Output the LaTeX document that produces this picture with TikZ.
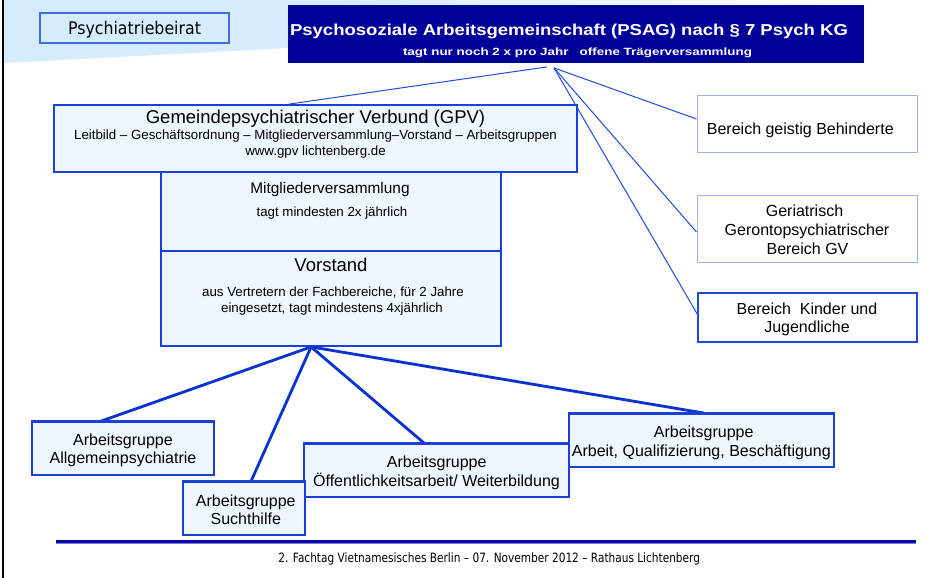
\documentclass[tikz,border=0pt]{standalone}
\usepackage{fontspec}
\usepackage{graphicx}
\setmainfont{Liberation Sans}
\newfontfamily\dvsans{DejaVu Sans}
\usetikzlibrary{calc}
\definecolor{bcol}{RGB}{25,65,215}
\definecolor{lcol}{RGB}{10,50,210}
\definecolor{tcol}{RGB}{30,75,220}
\definecolor{boxfill}{RGB}{238,246,254}
\definecolor{psagfill}{RGB}{0,0,153}
\definecolor{bgblue}{RGB}{213,236,252}
\definecolor{psbcol}{RGB}{60,110,225}
\definecolor{rcol}{RGB}{160,180,235}
\definecolor{rcolb}{RGB}{35,75,215}
\definecolor{footdark}{RGB}{10,10,160}
\definecolor{footlight}{RGB}{110,125,215}
\newsavebox{\fitbox}
\newcommand{\fitw}[2]{\sbox{\fitbox}{#2}\pgfmathsetmacro\fitsx{#1/\the\wd\fitbox}\scalebox{\fitsx}[1]{\usebox{\fitbox}}}
\begin{document}
\begin{tikzpicture}[x=1pt,y=-1pt,
  box/.style={draw=bcol, line width=1.8pt, fill=boxfill, inner sep=0pt},
  rbox/.style={draw=rcol, line width=1pt, fill=white, inner sep=0pt},
  con/.style={draw=lcol, line width=2.8pt},
  tcon/.style={draw=tcol, line width=1pt},
  lbl/.style={inner sep=0pt, text depth=0pt, text=black},
  fa/.style={font=\fontsize{16}{19}\selectfont, text height=11.5pt},
  fb/.style={font=\fontsize{13.3}{16}\selectfont, text height=9.6pt},
  fc/.style={font=\fontsize{18.5}{22}\selectfont, text height=13.3pt},
  fd/.style={font=\fontsize{15.4}{18}\selectfont, text height=11.1pt}
]
\useasboundingbox (0,0) rectangle (951,578);
\fill[white] (0,0) rectangle (951,578);
% background band
\fill[bgblue] (4,0) -- (300,0) -- (300,47.4) -- (4,63) -- cycle;
\shade[left color=bgblue, right color=white] (299.5,0) -- (870,0) -- (870,17.4) -- (299.5,47.4) -- cycle;
\draw[black, line width=2pt] (3.3,0) -- (3.3,578);

% boxes (geometry)
\node[box, fill=psagfill, draw=psagfill, minimum width=574pt, minimum height=56pt] (psag) at (576,34) {};
\node[box, fill=bgblue, draw=psbcol, line width=1.2pt, minimum width=189pt, minimum height=30pt] (psb) at (134.5,28) {};
\node[box, minimum width=523pt, minimum height=67pt] (gpv) at (315.5,138.5) {};

\coordinate (pj) at ([shift={(-22pt,-5pt)}]psag.south);
\coordinate (pj2) at ([shift={(-29pt,-4pt)}]psag.south);
\node[rbox, minimum width=220pt, minimum height=56pt] (rb1) at (807,124) {};
\node[rbox, minimum width=220pt, minimum height=67pt] (rb2) at (807,228.5) {};
\node[rbox, draw=rcolb, line width=1.5pt, minimum width=219pt, minimum height=49pt] (rb3) at (807.5,317.5) {};
\draw[tcon] (pj2) -- ([xshift=236pt]gpv.north west);
\draw[tcon] (pj) -- ([yshift=5pt]rb1.west);
\draw[tcon] (pj) -- ([yshift=-3.5pt]rb2.west);
\draw[tcon] (pj) -- ([yshift=3.5pt]rb3.west);

\node[box, minimum width=340pt, minimum height=79pt] (mv) at (331,211.5) {};
\node[box, minimum width=340pt, minimum height=95pt] (vs) at (331,298.5) {};
\coordinate (vj) at ([xshift=151pt]vs.south west);

\node[box, minimum width=182pt, minimum height=53pt] (ag1) at (123,448.5) {};
\node[box, minimum width=265pt, minimum height=53pt] (ag3) at (436.5,470.5) {};
\node[box, minimum width=265pt, minimum height=53pt] (ag4) at (701.5,440.5) {};
\node[box, minimum width=122pt, minimum height=53pt] (ag2) at (244,508.5) {};
\draw[con] (vj) -- ([xshift=70pt]ag1.north west);
\draw[con] (vj) -- ([xshift=69pt]ag2.north west);
\draw[con] (vj) -- ([xshift=121pt]ag3.north west);
\draw[con] (vj) -- ([xshift=136pt]ag4.north west);
% redraw borders over line ends
\draw[bcol, line width=1.8pt] (ag1.north west) -- (ag1.north east);
\draw[bcol, line width=1.8pt] (ag2.north west) -- (ag2.north east);
\draw[bcol, line width=1.8pt] (ag3.north west) -- (ag3.north east);
\draw[bcol, line width=1.8pt] (ag4.north west) -- (ag4.north east);

% texts
\node[lbl, font=\dvsans\fontsize{17.4}{20}\selectfont, text height=12.6pt] (tpsb) at (134.5,28) {\fitw{133}{Psychiatriebeirat}};
\node[lbl, text=white, font=\bfseries\fontsize{15.8}{18}\selectfont, text height=11.4pt] (tps1) at (569,29.5) {\fitw{558}{Psychosoziale Arbeitsgemeinschaft (PSAG) nach § 7 Psych KG}};
\node[lbl, text=white, font=\bfseries\fontsize{10.5}{12}\selectfont, text height=7.6pt] (tps2) at (577.5,51.3) {\fitw{349}{tagt nur noch 2 x pro Jahr\ \ \ offene Trägerversammlung}};

\node[lbl, fc] (tg1) at (315.5,116.7) {Gemeindepsychiatrischer Verbund (GPV)};
\node[lbl, fb] (tg2) at (315.5,134.8) {Leitbild – Geschäftsordnung – Mitgliederversammlung–Vorstand – Arbeitsgruppen};
\node[lbl, fb] (tg3) at (315.5,150.5) {www.gpv lichtenberg.de};

\node[lbl, fd] (tm1) at (330,187.8) {Mitgliederversammlung};
\node[lbl, fb] (tm2) at (332,212) {tagt mindesten 2x jährlich};

\node[lbl, fc] (tv1) at (331,265) {Vorstand};
\node[lbl, fb] (tv2) at (333,291.7) {aus Vertretern der Fachbereiche, für 2 Jahre};
\node[lbl, fb] (tv3) at (332,307.5) {eingesetzt, tagt mindestens 4xjährlich};

\node[lbl, fa] (tr1) at (800.3,129.2) {Bereich geistig Behinderte};
\node[lbl, fa] (tr2a) at (804.5,210.8) {Geriatrisch};
\node[lbl, fa] (tr2b) at (807,229.5) {Gerontopsychiatrischer};
\node[lbl, fa] (tr2c) at (807.5,248.5) {Bereich GV};
\node[lbl, fa] (tr3a) at (807,308.3) {Bereich\ \ Kinder und};
\node[lbl, fa] (tr3b) at (807,327) {Jugendliche};

\node[lbl, fa] (ta1a) at (123,439.7) {Arbeitsgruppe};
\node[lbl, fa] (ta1b) at (123,458.2) {Allgemeinpsychiatrie};
\node[lbl, fa] (ta2a) at (245.8,500.3) {Arbeitsgruppe};
\node[lbl, fa] (ta2b) at (245.8,518.3) {Suchthilfe};
\node[lbl, fa] (ta3a) at (436.7,462) {Arbeitsgruppe};
\node[lbl, fa] (ta3b) at (436.5,480.8) {Öffentlichkeitsarbeit/ Weiterbildung};
\node[lbl, fa] (ta4a) at (703.7,431.3) {Arbeitsgruppe};
\node[lbl, fa] (ta4b) at (701.3,450.5) {Arbeit, Qualifizierung, Beschäftigung};

% footer
\coordinate (fl) at (56,541.5);
\coordinate (fr) at (916,541.5);
\draw[footdark, line width=2.6pt] (fl) -- (fr);
\draw[footlight, line width=0.9pt] ([yshift=-2.4pt]fl) -- ([yshift=-2.4pt]fr);
\node[lbl, font=\dvsans\fontsize{12.8}{15}\selectfont, text height=9.3pt] (tfoot) at (489.2,558) {\fitw{421.7}{2. Fachtag Vietnamesisches Berlin – 07. November 2012 – Rathaus Lichtenberg}};
\end{tikzpicture}
\end{document}
